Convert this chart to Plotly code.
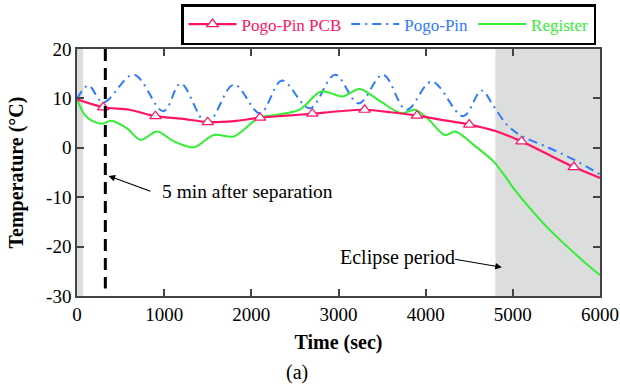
import plotly.graph_objects as go

# ---- data ----
pcb_time = [0, 300, 600, 900, 1200, 1500, 1800, 2100, 2400, 2700, 3000, 3300, 3600,
            3900, 4200, 4500, 4800, 5100, 5400, 5700, 6000]
pcb_temp = [9.8, 8.2, 7.7, 6.4, 5.9, 5.2, 5.4, 6.1, 6.5, 6.9, 7.4, 7.7, 7.2,
            6.5, 5.6, 4.7, 3.4, 1.3, -1.3, -3.9, -6.1]

pin_time = [0, 130, 300, 650, 990, 1190, 1490, 1800, 2100, 2350, 2670, 2960, 3230,
            3510, 3780, 4070, 4430, 4640, 4780, 4930, 5080, 5400, 5700, 6000]
pin_temp = [9.9, 12.6, 9.2, 14.8, 7.4, 13.0, 5.0, 12.8, 7.0, 13.6, 8.0, 14.8, 9.0,
            14.8, 7.7, 13.4, 6.4, 11.6, 8.4, 4.7, 2.6, 0.1, -2.4, -5.4]

reg_time = [0, 40, 90, 190, 300, 390, 570, 730, 920, 1110, 1340, 1570, 1800, 2090,
            2300, 2560, 2800, 3050, 3240, 3480, 3720, 3880, 4020, 4220, 4340, 4550,
            4780, 4900, 5000, 5200, 5400, 5600, 5800, 6000]
reg_temp = [9.9, 8.2, 6.6, 5.3, 4.9, 5.5, 4.0, 1.6, 3.3, 1.3, 0.1, 2.6, 2.3, 6.1,
            6.7, 7.8, 11.4, 10.4, 11.9, 9.4, 7.0, 7.7, 6.0, 2.6, 3.3, 0.6,
            -2.8, -5.5, -8.0, -12.3, -16.2, -19.6, -22.8, -25.8]

series_names = ["Pogo-Pin PCB", "Pogo-Pin", "Register"]
x_ticks = [0, 1000, 2000, 3000, 4000, 5000, 6000]
y_ticks = [-30, -20, -10, 0, 10, 20]
y_tick_labels = ["-30", "-20", "-10", "0", "10", "20"]
separation_time = 325
eclipse_start = 4800
initial_band_end = 70

PINK = "#FF1466"
BLUE = "#2F7BFF"
GREEN = "#33EE33"
FONT = "Liberation Serif"

marker_time = pcb_time[1::2]
marker_temp = pcb_temp[1::2]

def colored(name, color):
    return f"<span style='color:{color}'>{name}</span>"

fig = go.Figure()

# shaded regions
fig.add_vrect(x0=0, x1=initial_band_end, fillcolor="#DCDDDD", opacity=1, line_width=0, layer="below")
fig.add_vrect(x0=eclipse_start, x1=6000, fillcolor="#DCDDDD", opacity=1, line_width=0, layer="below")

fig.add_trace(go.Scatter(x=pin_time, y=pin_temp, mode="lines", showlegend=False,
                         line=dict(color=BLUE, width=2, dash="9px,5px,2px,5px", shape="spline", smoothing=1.0)))
fig.add_trace(go.Scatter(x=reg_time, y=reg_temp, mode="lines", showlegend=False,
                         line=dict(color=GREEN, width=2, shape="spline", smoothing=0.9)))
fig.add_trace(go.Scatter(x=pcb_time, y=pcb_temp, mode="lines", showlegend=False,
                         line=dict(color=PINK, width=2.2, shape="spline", smoothing=0.8)))
fig.add_trace(go.Scatter(x=marker_time, y=marker_temp, mode="markers", showlegend=False,
                         marker=dict(symbol="triangle-up", size=10, color="white",
                                     line=dict(color=PINK, width=1.2))))

# legend entries
fig.add_trace(go.Scatter(x=[None], y=[None], mode="lines+markers", name=colored(series_names[0], PINK),
                         line=dict(color=PINK, width=2.2),
                         marker=dict(symbol="triangle-up", size=10, color="white",
                                     line=dict(color=PINK, width=1.2))))
fig.add_trace(go.Scatter(x=[None], y=[None], mode="lines", name=colored(series_names[1], BLUE),
                         line=dict(color=BLUE, width=2, dash="9px,5px,2px,5px")))
fig.add_trace(go.Scatter(x=[None], y=[None], mode="lines", name=colored(series_names[2], GREEN),
                         line=dict(color=GREEN, width=2)))

# separation dashed line
fig.add_trace(go.Scatter(x=[separation_time, separation_time], y=[20, -28.5], mode="lines",
                         showlegend=False, line=dict(color="black", width=3, dash="12px,7px")))

# annotations
fig.add_annotation(x=362, y=-5.7, ax=860, ay=-8.9, axref="x", ayref="y", text="",
                   showarrow=True, arrowhead=2, arrowsize=1.2, arrowwidth=1.1, arrowcolor="black")
fig.add_annotation(x=950, y=-8.9, text="5 min after separation", showarrow=False,
                   xanchor="left", yanchor="middle", font=dict(family=FONT, size=19.5, color="black"))
fig.add_annotation(x=4874, y=-24.2, ax=4319, ay=-22.5, axref="x", ayref="y", text="",
                   showarrow=True, arrowhead=2, arrowsize=1.2, arrowwidth=1.1, arrowcolor="black")
fig.add_annotation(x=4360, y=-22.3, text="Eclipse period", showarrow=False,
                   xanchor="right", yanchor="middle", font=dict(family=FONT, size=20, color="black"))
fig.add_annotation(x=0.42, y=-0.31, xref="paper", yref="paper", text="(a)", showarrow=False,
                   xanchor="center", yanchor="middle", font=dict(family=FONT, size=20, color="black"))

axis_common = dict(showgrid=False, zeroline=False, showline=True, linecolor="#444", linewidth=1.5,
                   ticks="inside", ticklen=7, tickwidth=1.5, tickcolor="#444", mirror="ticks",
                   automargin=False,
                   tickfont=dict(family=FONT, size=19, color="black"))

fig.update_xaxes(range=[0, 6000], tickvals=x_ticks,
                 title=dict(text="<b>Time (sec)</b>", font=dict(family=FONT, size=20, color="black"), standoff=11),
                 **axis_common)
fig.update_yaxes(range=[-30, 20], tickvals=y_ticks, ticktext=y_tick_labels,
                 title=dict(text="<b>Temperature (°C)</b>", font=dict(family=FONT, size=20, color="black"), standoff=17),
                 **axis_common)

fig.update_layout(
    width=620, height=386,
    margin=dict(l=77, r=20, t=49, b=90, autoexpand=False),
    plot_bgcolor="white", paper_bgcolor="white",
    font=dict(family=FONT),
    legend=dict(orientation="h", x=0.199, y=1.182, xanchor="left", yanchor="top",
                bordercolor="black", borderwidth=2.5, bgcolor="white",
                font=dict(family=FONT, size=17), itemwidth=48),
    showlegend=True,
)

fig.write_html("out.html")
